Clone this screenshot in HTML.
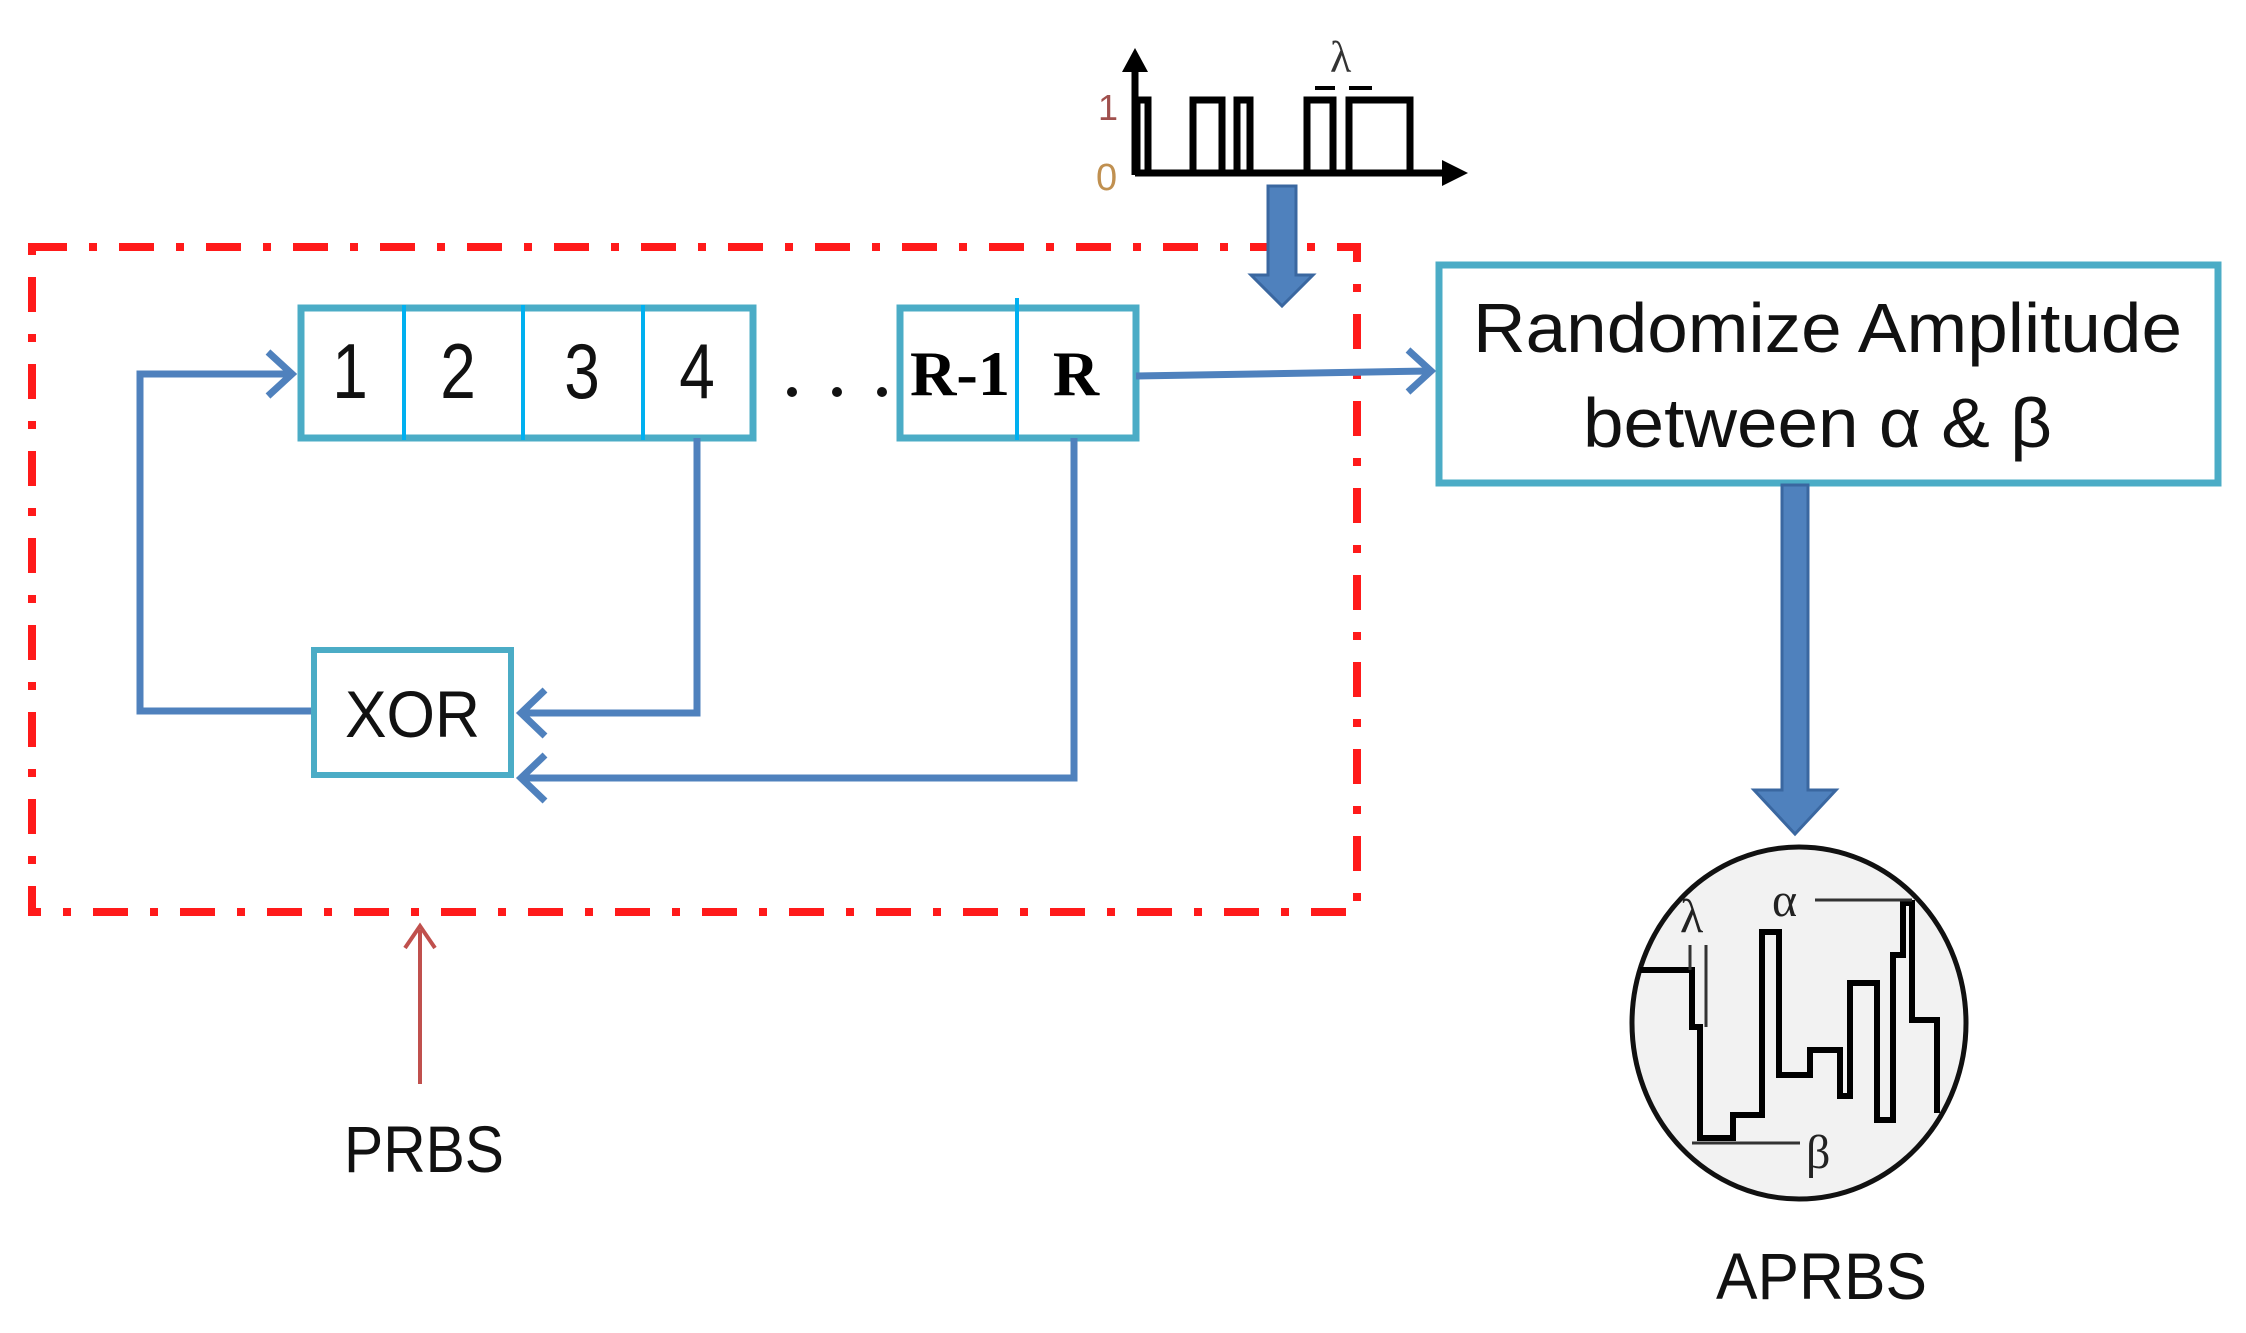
<!DOCTYPE html>
<html><head><meta charset="utf-8"><style>
html,body{margin:0;padding:0;background:#fff;}
svg{display:block;}
</style></head><body>
<svg width="2246" height="1333" viewBox="0 0 2246 1333" xmlns="http://www.w3.org/2000/svg">
<!-- red dash-dot box -->
<rect x="32" y="247" width="1325" height="665" fill="none" stroke="#ff1a1a" stroke-width="8" stroke-dasharray="35 22 8 22"/>

<!-- top signal -->
<g stroke="#000" fill="none" stroke-width="7">
<line x1="1135" y1="175" x2="1135" y2="65"/>
<line x1="1135" y1="173" x2="1448" y2="173"/>
<polyline points="1137,173 1137,100 1148,100 1148,173 1193,173 1193,100 1222,100 1222,173 1237,173 1237,100 1250,100 1250,173 1307,173 1307,100 1333,100 1333,173 1349,173 1349,100 1410,100 1410,173"/>
<line x1="1315" y1="88" x2="1335" y2="88" stroke-width="4"/>
<line x1="1349" y1="88" x2="1372" y2="88" stroke-width="4"/>
</g>
<polygon points="1135,48 1122,72 1148,72" fill="#000"/>
<polygon points="1468,173 1442,160 1442,186" fill="#000"/>
<text x="1098" y="120" font-family="Liberation Sans, sans-serif" font-size="36" fill="#a0504d">1</text>
<text x="1096" y="190" font-family="Liberation Sans, sans-serif" font-size="38" fill="#c09050">0</text>
<text x="1330" y="72" font-family="Liberation Serif, serif" font-size="44" fill="#333">λ</text>

<!-- blue block arrow from signal -->
<polygon points="1268,186 1296,186 1296,275 1313,275 1282,306 1251,275 1268,275" fill="#4f81bd" stroke="#3a67a0" stroke-width="3"/>

<!-- register boxes -->
<g fill="#fff" stroke="#4bacc6" stroke-width="7">
<rect x="301" y="308" width="452" height="130"/>
<rect x="900" y="308" width="236" height="130"/>
</g>
<g stroke="#00b0f0" stroke-width="4">
<line x1="404" y1="305" x2="404" y2="440"/>
<line x1="523" y1="305" x2="523" y2="440"/>
<line x1="643" y1="305" x2="643" y2="440"/>
<line x1="1017" y1="298" x2="1017" y2="440"/>
</g>
<g font-family="Liberation Sans, sans-serif" font-size="78" fill="#111" text-anchor="middle">
<text x="350" y="398" transform="translate(350 0) scale(0.82 1) translate(-350 0)">1</text>
<text x="458" y="398" transform="translate(458 0) scale(0.82 1) translate(-458 0)">2</text>
<text x="582" y="398" transform="translate(582 0) scale(0.82 1) translate(-582 0)">3</text>
<text x="697" y="398" transform="translate(697 0) scale(0.82 1) translate(-697 0)">4</text>
</g>
<g fill="#111">
<circle cx="792" cy="392" r="5"/><circle cx="837" cy="392" r="5"/><circle cx="882" cy="392" r="5"/>
</g>
<text x="910" y="395" font-family="Liberation Serif, serif" font-weight="bold" font-size="64" fill="#000" textLength="100" lengthAdjust="spacingAndGlyphs">R-1</text>
<text x="1076" y="395" font-family="Liberation Serif, serif" font-weight="bold" font-size="64" fill="#000" text-anchor="middle">R</text>

<!-- XOR -->
<rect x="314" y="650" width="197" height="125" fill="#fff" stroke="#4bacc6" stroke-width="6"/>
<text x="345" y="737" font-family="Liberation Sans, sans-serif" font-size="66" fill="#111" textLength="135" lengthAdjust="spacingAndGlyphs">XOR</text>

<!-- connectors -->
<g fill="none" stroke="#4f81bd" stroke-width="7" stroke-linejoin="miter">
<polyline points="311,711 140,711 140,374 290,374"/>
<polyline points="268,352 292,374 268,396"/>
<polyline points="697,438 697,713 520,713"/>
<polyline points="545,690 521,713 545,736"/>
<polyline points="1074,438 1074,778 520,778"/>
<polyline points="545,755 521,778 545,801"/>
<line x1="1136" y1="376" x2="1430" y2="371"/>
<polyline points="1408,350 1431,371 1408,392"/>
</g>

<!-- Randomize box -->
<rect x="1439" y="265" width="779" height="218" fill="#fff" stroke="#4bacc6" stroke-width="7"/>
<g font-family="Liberation Sans, sans-serif" font-size="70" fill="#111">
<text x="1473" y="352" textLength="709" lengthAdjust="spacingAndGlyphs">Randomize Amplitude</text>
<text x="1583" y="447" textLength="469" lengthAdjust="spacingAndGlyphs">between α &amp; β</text>
</g>

<!-- big arrow down -->
<polygon points="1782,485 1808,485 1808,790 1836,790 1795,834 1754,790 1782,790" fill="#4f81bd" stroke="#3a67a0" stroke-width="3"/>

<!-- circle -->
<ellipse cx="1799" cy="1023" rx="167" ry="176" fill="#f2f2f2" stroke="#111" stroke-width="5"/>
<g fill="none" stroke="#000" stroke-width="6" stroke-linejoin="miter">
<polyline points="1640,970 1692,970 1692,1027 1700,1027 1700,1138 1733,1138 1733,1115 1762,1115 1762,932 1779,932 1779,1075 1810,1075 1810,1050 1840,1050 1840,1096 1850,1096 1850,983 1877,983 1877,1120 1893,1120 1893,955 1903,955 1903,903 1912,903 1912,1020 1937,1020 1937,1113"/>
</g>
<g stroke="#333" stroke-width="3">
<line x1="1815" y1="900" x2="1912" y2="900"/>
<line x1="1692" y1="1143" x2="1800" y2="1143"/>
<line x1="1690" y1="945" x2="1690" y2="970"/>
<line x1="1706" y1="945" x2="1706" y2="1027"/>
</g>
<g font-family="Liberation Serif, serif" font-size="48" fill="#222">
<text x="1680" y="932">λ</text>
<text x="1772" y="916">α</text>
<text x="1806" y="1168">β</text>
</g>

<!-- red PRBS arrow -->
<line x1="420" y1="1084" x2="420" y2="930" stroke="#c0504d" stroke-width="4"/>
<polyline points="405,948 420,926 435,948" fill="none" stroke="#c0504d" stroke-width="4"/>

<g font-family="Liberation Sans, sans-serif" font-size="66" fill="#111">
<text x="344" y="1172" textLength="160" lengthAdjust="spacingAndGlyphs">PRBS</text>
<text x="1716" y="1299" textLength="211" lengthAdjust="spacingAndGlyphs">APRBS</text>
</g>
</svg>
</body></html>
